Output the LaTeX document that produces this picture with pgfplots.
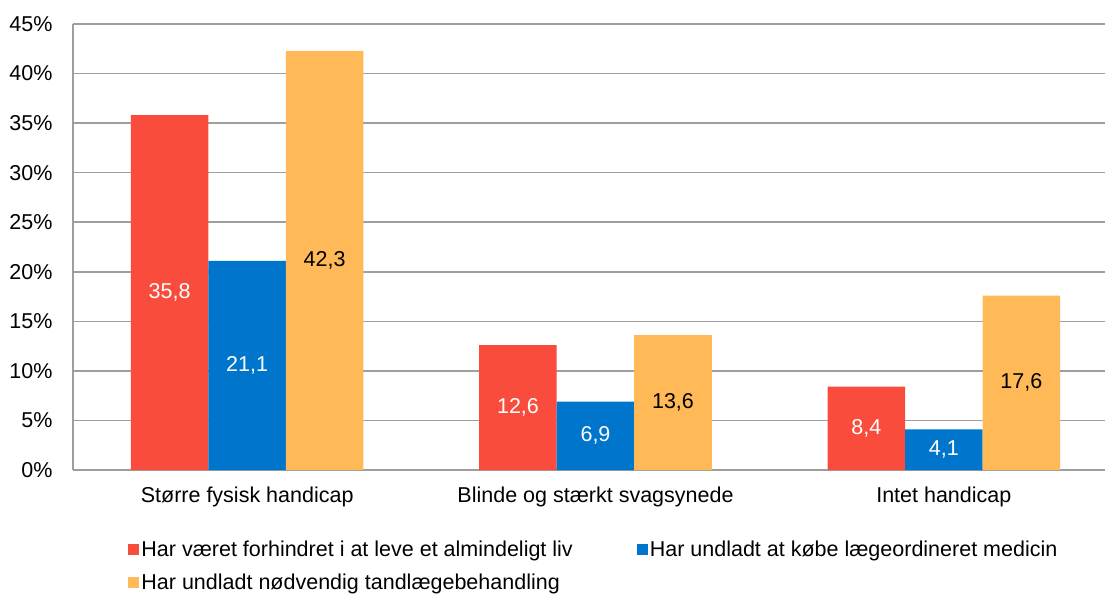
\documentclass[border=0pt]{standalone}
\usepackage{pgfplots}
\pgfplotsset{compat=1.18}
\usepackage{fontspec}
\setmainfont{Liberation Sans}
\definecolor{cred}{RGB}{249,76,61}
\definecolor{cblue}{RGB}{0,117,204}
\definecolor{corange}{RGB}{255,185,87}
\definecolor{cgrid}{RGB}{158,158,158}
\begin{document}
\begin{tikzpicture}[font=\fontsize{21.5pt}{25pt}\selectfont]
\begin{axis}[
  name=ax,
  scale only axis,
  width=1045pt, height=446pt,
  xmin=-0.5, xmax=2.5,
  ymin=0, ymax=45,
  ytick={0,5,...,45},
  yticklabel={\pgfmathprintnumber{\tick}\%},
  xtick={0,1,2},
  xticklabels={Større fysisk handicap, Blinde og stærkt svagsynede, Intet handicap},
  axis lines=left,
  axis line style={-, cgrid, line width=1.5pt},
  ymajorgrids,
  grid style={cgrid, line width=1.5pt},
  major tick length=0pt,
  ybar=0pt, bar width=77.5pt,
  /pgf/number format/assume math mode=true,
  tick label style={font=\fontsize{21.5pt}{25pt}\selectfont, text=black},
  yticklabel style={xshift=-17pt},
  xticklabel style={yshift=-13pt},
  nodes near coords,
  visualization depends on={y \as \rawy},
  every node near coord/.append style={anchor=center,
    shift={(axis direction cs:0,-\rawy/2)},
    font=\fontsize{21.5pt}{25pt}\selectfont,
    /pgf/number format/use comma, /pgf/number format/fixed,
    /pgf/number format/fixed zerofill, /pgf/number format/precision=1},
  legend columns=2,
  legend style={at={(0.05,-0.15)}, anchor=north west, draw=none, fill=none,
    font=\fontsize{21.5pt}{25pt}\selectfont,
    nodes={inner xsep=2pt},
    /tikz/every even column/.append style={column sep=62pt},
    cells={anchor=west}, row sep=12pt},
  legend image code/.code={\fill[#1] (0pt,-5.5pt) rectangle (11pt,5.5pt);},
]
\addplot[fill=cred, draw=none, every node near coord/.append style={text=white}]
  coordinates {(0,35.8) (1,12.6) (2,8.4)};
\addlegendentry{Har været forhindret i at leve et almindeligt liv}
\addplot[fill=cblue, draw=none, every node near coord/.append style={text=white}]
  coordinates {(0,21.1) (1,6.9) (2,4.1)};
\addlegendentry{Har undladt at købe lægeordineret medicin}
\addplot[fill=corange, draw=none, every node near coord/.append style={text=black}]
  coordinates {(0,42.3) (1,13.6) (2,17.6)};
\addlegendentry{Har undladt nødvendig tandlægebehandling}
\end{axis}
\pgfresetboundingbox
\path[use as bounding box] ([shift={(-73pt,-124pt)}]ax.south west) rectangle ([shift={(1032pt,24pt)}]ax.north west);
\end{tikzpicture}
\end{document}
